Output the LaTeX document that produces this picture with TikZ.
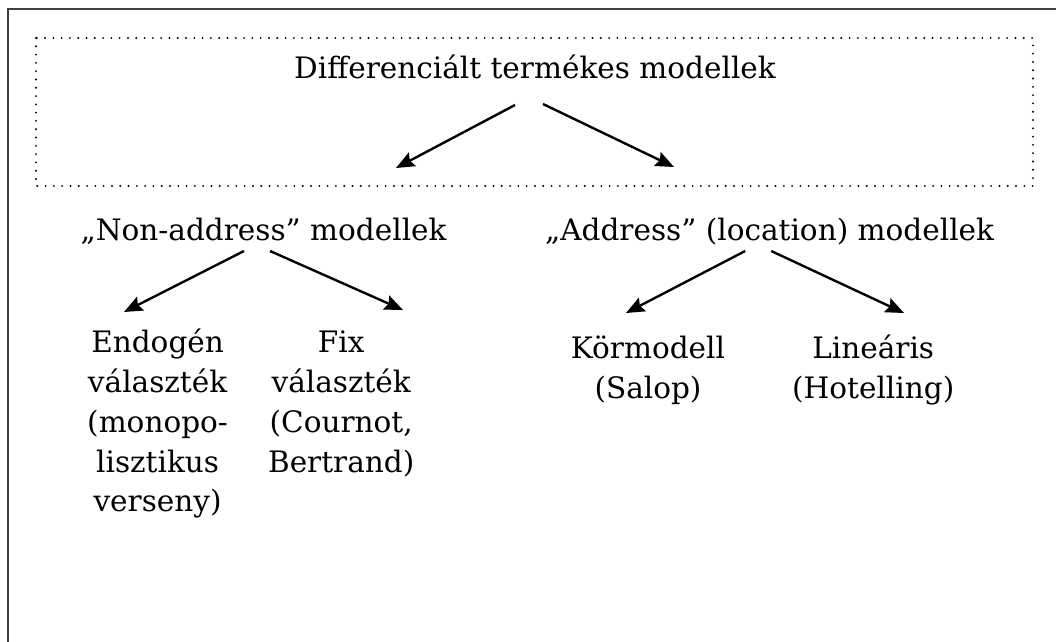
\documentclass[tikz,border=0pt]{standalone}
\usepackage{fontspec}
\setmainfont{DejaVu Serif}
\usetikzlibrary{arrows.meta,calc}

\begin{document}
\begin{tikzpicture}[
	lbl/.style={anchor=base,font=\fontsize{21}{28.4}\selectfont},
	blk/.style={anchor=north,inner sep=0pt,align=center,font=\fontsize{21}{28.4}\selectfont},
	arr/.style={line width=1.7pt,-{Stealth[length=4.6mm,width=3.8mm,inset=0.7mm]}},
	dotbox/.style={line width=1.5pt,line cap=round,dash pattern=on 0pt off 5.9pt}
	]
	\useasboundingbox (0,0) rectangle (26.4,-16.05);
	\draw [line width=1.5pt,black!75] (0.2,-16.05) -- (0.2,-0.225) -- (26.4,-0.225);
	\draw [dotbox] (0.9,-0.95) rectangle (25.825,-4.65);

	\node [lbl] (title) at (13.375,-1.975) {Differenciált termékes modellek};
	\node [lbl] (nonaddr) at (6.59,-6.0) {„Non-address” modellek};
	\node [lbl] (addr) at (19.24,-6.0) {„Address” (location) modellek};
	\node [blk] (endo) at (3.94,-8.1) {\strut Endogén\\választék\\(monopo-\\lisztikus\\verseny)};
	\node [blk] (fix) at (8.53,-8.1) {\strut Fix\\választék\\(Cournot,\\Bertrand)};
	\node [blk] (kor) at (16.2,-8.25) {\strut Körmodell\\(Salop)};
	\node [blk] (lin) at (21.83,-8.25) {\strut Lineáris\\(Hotelling)};

	\coordinate (tl) at ($(title.base)+(-0.5,-0.65)$);
	\coordinate (tr) at ($(title.base)+(0.2,-0.625)$);
	\coordinate (nl) at ($(nonaddr.base)+(-0.49,-0.275)$);
	\coordinate (nr) at ($(nonaddr.base)+(0.16,-0.275)$);
	\coordinate (al) at ($(addr.base)+(-0.61,-0.275)$);
	\coordinate (ar) at ($(addr.base)+(0.04,-0.275)$);

	\draw [arr] (tl) -- (9.9,-4.2);
	\draw [arr] (tr) -- (16.85,-4.175);
	\draw [arr] (nl) -- (3.1,-7.8);
	\draw [arr] (nr) -- (10.075,-7.75);
	\draw [arr] (al) -- (15.65,-7.825);
	\draw [arr] (ar) -- (22.6,-7.825);
\end{tikzpicture}
\end{document}
